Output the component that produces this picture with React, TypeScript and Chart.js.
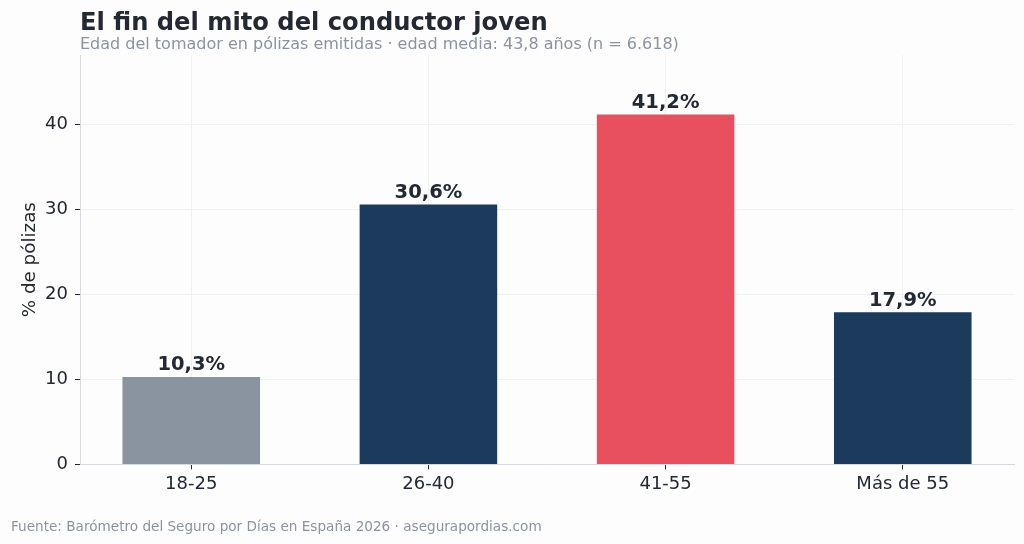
import { useEffect, useRef } from "react";
import Chart from "chart.js/auto";

const categories = ["18-25", "26-40", "41-55", "Más de 55"];
const shares = [10.3, 30.6, 41.2, 17.9];
const barColors = ["#8A94A0", "#1B3A5C", "#E85060", "#1B3A5C"];
const yTicks = [0, 10, 20, 30, 40];

const TITLE = "El fin del mito del conductor joven";
const SUBTITLE = "Edad del tomador en pólizas emitidas · edad media: 43,8 años (n = 6.618)";
const SOURCE = "Fuente: Barómetro del Seguro por Días en España 2026 · asegurapordias.com";

const FONT = "'DejaVu Sans', sans-serif";
const DARK = "#222933";
const MUTED = "#8A94A0";

const fmt = (v: number) => v.toFixed(1).replace(".", ",") + "%";

// titles, source line and value labels drawn on the canvas
const textPlugin = {
  id: "texts",
  afterDatasetsDraw(chart: any) {
    const { ctx, chartArea } = chart;
    ctx.save();
    ctx.fillStyle = DARK;
    ctx.font = `bold 19.5px ${FONT}`;
    ctx.textAlign = "center";
    ctx.textBaseline = "bottom";
    const meta = chart.getDatasetMeta(0);
    meta.data.forEach((el: any, i: number) => {
      ctx.fillText(fmt(shares[i]), el.x, el.y - 2);
    });

    ctx.textAlign = "left";
    ctx.textBaseline = "alphabetic";
    ctx.font = `bold 24.2px ${FONT}`;
    ctx.fillStyle = DARK;
    ctx.fillText(TITLE, chartArea.left, 30);
    ctx.font = `16px ${FONT}`;
    ctx.fillStyle = MUTED;
    ctx.fillText(SUBTITLE, chartArea.left, 49);
    ctx.font = `13.6px ${FONT}`;
    ctx.fillText(SOURCE, 11, 531);
    ctx.restore();
  },
};

export default function App() {
  const chartRef = useRef<HTMLCanvasElement>(null);
  const chartInstanceRef = useRef<Chart | null>(null);

  useEffect(() => {
    document.body.style.margin = "0";
    if (!chartRef.current) return;
    if (chartInstanceRef.current) chartInstanceRef.current.destroy();

    chartInstanceRef.current = new Chart(chartRef.current, {
      type: "bar",
      data: {
        datasets: [
          {
            data: shares.map((v, i) => ({ x: i, y: v })),
            backgroundColor: barColors,
            borderWidth: 0,
            barPercentage: 0.58,
            categoryPercentage: 1,
          },
        ],
      },
      options: {
        animation: false,
        responsive: false,
        maintainAspectRatio: false,
        layout: { padding: { top: 55, left: 8, right: 10, bottom: 45 } },
        plugins: {
          legend: { display: false },
          tooltip: { enabled: false },
        },
        scales: {
          x: {
            type: "linear",
            min: -0.469,
            max: 3.469,
            offset: false,
            afterBuildTicks: (axis: any) => {
              axis.ticks = categories.map((_, i) => ({ value: i }));
            },
            ticks: {
              callback: (v: any) => categories[v] ?? "",
              color: DARK,
              font: { family: FONT, size: 18 },
              padding: 4,
              maxRotation: 0,
            },
            grid: {
              offset: false,
              color: "#EEF0F2",
              tickColor: DARK,
              tickLength: 5,
            },
            border: { color: "#D5D9DE", width: 1 },
          },
          y: {
            min: 0,
            max: 48.2,
            afterBuildTicks: (axis: any) => {
              axis.ticks = yTicks.map((v) => ({ value: v }));
            },
            afterFit: (scale: any) => {
              scale.width = 72;
            },
            ticks: {
              color: DARK,
              font: { family: FONT, size: 18 },
              padding: 7,
            },
            title: {
              display: true,
              text: "% de pólizas",
              color: DARK,
              font: { family: FONT, size: 18.3 },
              padding: { top: 11, bottom: 0 },
            },
            grid: {
              color: "#EEF0F2",
              tickColor: DARK,
              tickLength: 5,
            },
            border: { color: "#D5D9DE", width: 1 },
          },
        },
      },
      plugins: [textPlugin],
    });

    return () => {
      if (chartInstanceRef.current) {
        chartInstanceRef.current.destroy();
        chartInstanceRef.current = null;
      }
    };
  }, []);

  return (
    <div style={{ width: 1024, height: 544, background: "#FDFDFD" }}>
      <canvas ref={chartRef} width={1024} height={544} style={{ display: "block" }} />
    </div>
  );
}
